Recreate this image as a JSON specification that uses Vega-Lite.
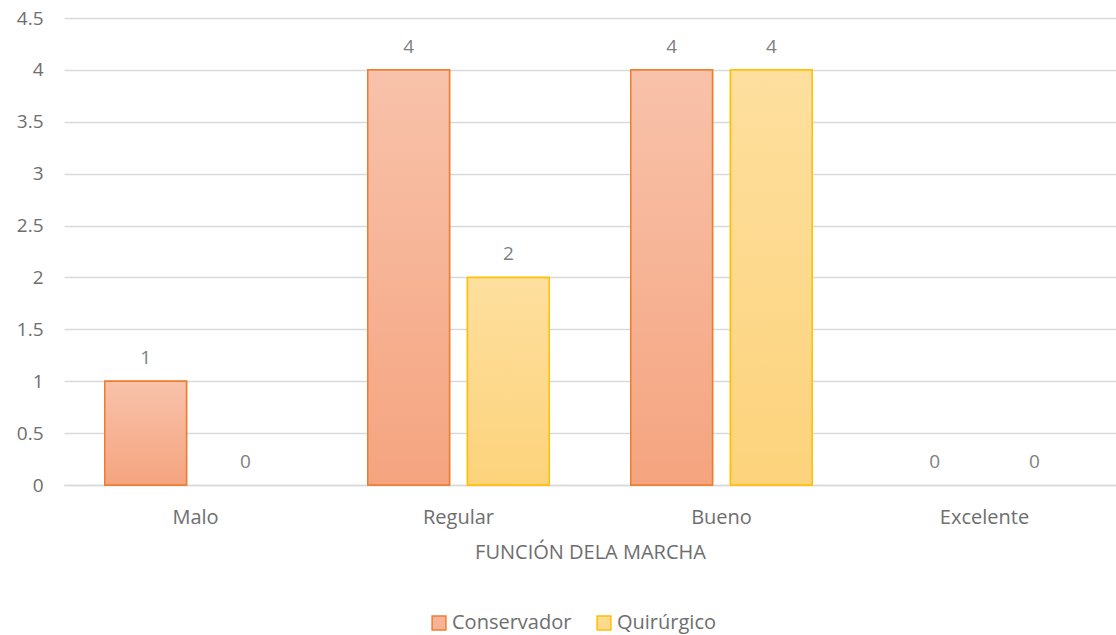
{
  "$schema": "https://vega.github.io/schema/vega-lite/v6.json",
  "width": 1052,
  "height": 467,
  "autosize": {"type": "none"},
  "padding": {"left": 64, "top": 18, "right": 0, "bottom": 150},
  "background": "white",
  "config": {
    "font": "Open Sans",
    "view": {"stroke": null}
  },
  "data": {
    "values": [
      {"categoria": "Malo", "serie": "Conservador", "valor": 1},
      {"categoria": "Malo", "serie": "Quirúrgico", "valor": 0},
      {"categoria": "Regular", "serie": "Conservador", "valor": 4},
      {"categoria": "Regular", "serie": "Quirúrgico", "valor": 2},
      {"categoria": "Bueno", "serie": "Conservador", "valor": 4},
      {"categoria": "Bueno", "serie": "Quirúrgico", "valor": 4},
      {"categoria": "Excelente", "serie": "Conservador", "valor": 0},
      {"categoria": "Excelente", "serie": "Quirúrgico", "valor": 0}
    ]
  },
  "encoding": {
    "x": {
      "field": "categoria",
      "type": "nominal",
      "sort": ["Malo", "Regular", "Bueno", "Excelente"],
      "scale": {"paddingInner": 0.31, "paddingOuter": 0.155},
      "axis": {
        "title": "FUNCIÓN DELA MARCHA",
        "titleColor": "#6E6E6E",
        "titleFontSize": 20,
        "titleFontWeight": "normal",
        "titlePadding": 15,
        "labelAngle": 0,
        "labelColor": "#6E6E6E",
        "labelFontSize": 20,
        "labelPadding": 22,
        "ticks": false,
        "domainColor": "#D9D9D9",
        "domainWidth": 1.5,
        "grid": false
      }
    },
    "xOffset": {
      "field": "serie",
      "type": "nominal",
      "scale": {"domain": ["Conservador", "Quirúrgico"], "paddingInner": 0.18, "paddingOuter": 0}
    },
    "y": {
      "field": "valor",
      "type": "quantitative",
      "scale": {"domain": [0, 4.5], "nice": false},
      "axis": {
        "title": null,
        "values": [0, 0.5, 1, 1.5, 2, 2.5, 3, 3.5, 4, 4.5],
        "format": "~g",
        "labelColor": "#6E6E6E",
        "labelFontSize": 19,
        "labelPadding": 21,
        "ticks": false,
        "domain": false,
        "gridColor": "#D9D9D9",
        "gridWidth": 1.5
      }
    }
  },
  "layer": [
    {
      "transform": [{"filter": "datum.valor > 0"}],
      "mark": {"type": "bar", "strokeWidth": 1.5},
      "encoding": {
        "fill": {
          "field": "serie",
          "type": "nominal",
          "scale": {"domain": ["Conservador", "Quirúrgico"], "range": ["#F6B396", "#FEDA8E"]},
          "legend": {
            "title": null,
            "orient": "none",
            "direction": "horizontal",
            "legendX": 365,
            "legendY": 595,
            "symbolType": "square",
            "symbolSize": 190,
            "symbolStrokeWidth": 1.5,
            "labelFontSize": 20,
            "labelColor": "#6E6E6E",
            "labelOffset": 3,
            "columnPadding": 22
          }
        },
        "stroke": {
          "field": "serie",
          "type": "nominal",
          "scale": {"domain": ["Conservador", "Quirúrgico"], "range": ["#ED7D31", "#FFC000"]},
          "legend": {
            "title": null,
            "orient": "none",
            "direction": "horizontal",
            "legendX": 365,
            "legendY": 595,
            "symbolType": "square",
            "symbolSize": 190,
            "symbolStrokeWidth": 1.5,
            "labelFontSize": 20,
            "labelColor": "#6E6E6E",
            "labelOffset": 3,
            "columnPadding": 22
          }
        }
      }
    },
    {
      "transform": [{"filter": "datum.valor > 0 && datum.serie == 'Conservador'"}],
      "mark": {
        "type": "bar",
        "stroke": "#ED7D31",
        "strokeWidth": 1.5,
        "fill": {
          "gradient": "linear", "x1": 0, "y1": 0, "x2": 0, "y2": 1,
          "stops": [{"offset": 0, "color": "#F8C2AA"}, {"offset": 1, "color": "#F5A47F"}]
        }
      },
      "encoding": {}
    },
    {
      "transform": [{"filter": "datum.valor > 0 && datum.serie == 'Quirúrgico'"}],
      "mark": {
        "type": "bar",
        "stroke": "#FFC000",
        "strokeWidth": 1.5,
        "fill": {
          "gradient": "linear", "x1": 0, "y1": 0, "x2": 0, "y2": 1,
          "stops": [{"offset": 0, "color": "#FEDF9E"}, {"offset": 1, "color": "#FDD37C"}]
        }
      },
      "encoding": {}
    },
    {
      "mark": {"type": "text", "baseline": "bottom", "dy": -13, "fontSize": 19, "color": "#7F7F7F"},
      "encoding": {
        "text": {"field": "valor", "type": "quantitative"}
      }
    }
  ]
}
